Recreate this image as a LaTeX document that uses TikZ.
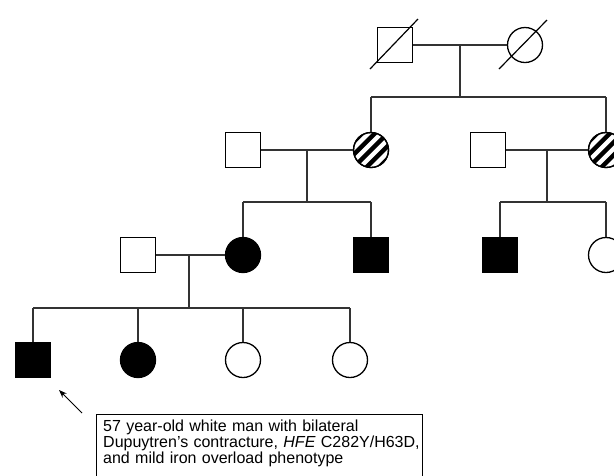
\documentclass[tikz,border=0pt]{standalone}
\usepackage{fontspec}
\newfontfamily\arialf{Liberation Sans}
\usetikzlibrary{calc,arrows.meta}
\begin{document}
\begin{tikzpicture}[x=1pt,y=-1pt,
  male/.style={draw, rectangle, minimum size=35pt, inner sep=0pt, line width=1.3pt},
  female/.style={draw, circle, minimum size=35pt, inner sep=0pt, line width=1.3pt},
  aff/.style={fill=black},
  link/.style={line width=1.3pt, draw=black!80},
  dead/.style={line width=1.2pt},
  hatchline/.style={line width=4.4pt}]
\useasboundingbox (0,0) rectangle (614,475);
\clip (0,0) rectangle (614,475);
% Generation I
\node[male] (I1) at (395,45) {};
\node[female] (I2) at (525,45) {};
\coordinate (d1a) at (370,69); \coordinate (d1b) at (418,19);
\coordinate (d2a) at (499,69); \coordinate (d2b) at (547,20);
\draw[dead] (d1a) -- (d1b);
\draw[dead] (d2a) -- (d2b);
% Generation II
\node[male] (II1) at (243,150) {};
\node[female] (II2) at (371,150) {};
\node[male] (II3) at (488,150) {};
\node[female] (II4) at (606,150) {};
\foreach \p in {II2,II4}{
  \begin{scope}
    \clip (\p) circle (17.5);
    \foreach \k in {-4,...,4}
      \draw[hatchline] ($(\p)+(\k*6.36,\k*6.36)+(-30,30)$) -- ($(\p)+(\k*6.36,\k*6.36)+(30,-30)$);
  \end{scope}
  \node[female] at (\p) {};
}
% Generation III
\node[male] (III1) at (138,255) {};
\node[female,aff] (III2) at (243,255) {};
\node[male,aff] (III3) at (371,255) {};
\node[male,aff] (III4) at (500,255) {};
\node[female] (III5) at (606,255) {};
% Generation IV
\node[male,aff] (IV1) at (33,360) {};
\node[female,aff] (IV2) at (138,360) {};
\node[female] (IV3) at (243,360) {};
\node[female] (IV4) at (350,360) {};
% connectors: I
\draw[link] (I1) -- (I2);
\coordinate (m1) at ($(I1)!0.5!(I2)$);
\coordinate (s1L) at (371,97); \coordinate (s1R) at (606,97);
\draw[link] (m1) -- (m1 |- s1L);
\draw[link] (s1L) -- (s1R);
\draw[link] (s1L) -- (II2);
\draw[link] (s1R) -- (II4);
% connectors: II left
\draw[link] (II1) -- (II2);
\coordinate (m2) at ($(II1)!0.5!(II2)$);
\coordinate (s2L) at (243,202); \coordinate (s2R) at (371,202);
\draw[link] (m2) -- (m2 |- s2L);
\draw[link] (s2L) -- (s2R);
\draw[link] (s2L) -- (III2);
\draw[link] (s2R) -- (III3);
% connectors: II right
\draw[link] (II3) -- (II4);
\coordinate (m3) at ($(II3)!0.5!(II4)$);
\coordinate (s3L) at (500,202); \coordinate (s3R) at (606,202);
\draw[link] (m3) -- (m3 |- s3L);
\draw[link] (s3L) -- (s3R);
\draw[link] (s3L) -- (III4);
\draw[link] (s3R) -- (III5);
% connectors: III
\draw[link] (III1) -- (III2);
\coordinate (m4) at (189,255);
\coordinate (s4L) at (33,308); \coordinate (s4R) at (350,308);
\draw[link] (m4) -- (m4 |- s4L);
\draw[link] (s4L) -- (s4R);
\draw[link] (s4L) -- (IV1);
\coordinate (s4b) at (138,308); \coordinate (s4c) at (243,308);
\draw[link] (s4b) -- (IV2);
\draw[link] (s4c) -- (IV3);
\draw[link] (s4R) -- (IV4);
% note box and arrow
\node[draw, line width=0.9pt, anchor=north west, minimum width=326pt, minimum height=90pt, inner sep=0pt] (note) at (96,414) {};
\node[anchor=base west, text width=320pt, align=left, inner sep=0pt,
      font=\arialf\fontsize{16}{16}\selectfont] (notetext) at (103,431)
  {57 year-old white man with bilateral\\
   Dupuytren’s contracture, \textit{HFE} C282Y/H63D,\\
   and mild iron overload phenotype};
\coordinate (arrS) at (82,413); \coordinate (arrE) at (59,390);
\draw[line width=1pt, -{Stealth[length=8pt,width=6pt]}] (arrS) -- (arrE);
\end{tikzpicture}
\end{document}
